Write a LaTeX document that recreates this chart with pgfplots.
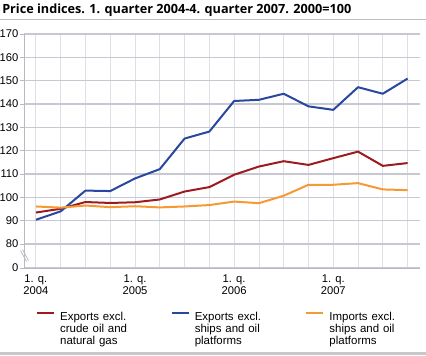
\documentclass[border=0pt]{standalone}
\usepackage{fontspec}
\setmainfont{Liberation Sans}
\newfontfamily\titlefont{Open Sans}
\usepackage{pgfplots}
\pgfplotsset{compat=1.18}
\definecolor{cred}{RGB}{155,27,30}
\definecolor{cblue}{RGB}{41,71,158}
\definecolor{corange}{RGB}{247,153,51}
\definecolor{hgrid}{RGB}{200,200,210}
\definecolor{vgrid}{RGB}{222,222,230}
\definecolor{axgray}{RGB}{185,185,195}
\begin{document}
\begin{tikzpicture}[x=0.75pt,y=0.75pt]
\path[use as bounding box] (0,0) rectangle (426,355);
\node[anchor=base west,inner sep=0pt,font=\titlefont\bfseries\fontsize{9.5pt}{11pt}\selectfont] at (2,355-13.5) {Price indices. 1. quarter 2004-4. quarter 2007. 2000=100};
\draw[color={rgb,255:red,190;green,190;blue,190},line width=1.1pt] (0,355-19.5) -- (426,355-19.5);
\fill[color={rgb,255:red,200;green,200;blue,200}] (0,0) rectangle (426,3);
\begin{axis}[
  at={(18pt,65.25pt)}, anchor=south west,
  scale only axis, width=297pt, height=175.5pt,
  xmin=-0.48, xmax=15.5, ymin=69.73, ymax=170,
  axis lines=left, axis line style={draw=axgray,-,line width=0.6pt},
  xtick={0,...,15},
  xticklabels={{1. q.\\2004},,,,{1. q.\\2005},,,,{1. q.\\2006},,,,{1. q.\\2007},,,},
  xticklabel style={align=center,font=\fontsize{8.4pt}{9pt}\selectfont,inner sep=1pt,yshift=-1pt},
  major x tick style={draw=none},
  ytick={69.73,80,90,100,110,120,130,140,150,160,170},
  yticklabels={0,80,90,100,110,120,130,140,150,160,170},
  yticklabel style={font=\fontsize{8.4pt}{9pt}\selectfont,inner sep=1pt},
  major y tick style={draw=axgray,line width=0.6pt},
  tick align=outside, major tick length=3pt,
  xmajorgrids, ymajorgrids,
  major x grid style={draw=vgrid,line width=0.6pt},
  major y grid style={draw=hgrid,line width=0.9pt},
  /pgf/number format/assume math mode=true,
  legend columns=3,
  legend style={at={(0.03,-0.185)},anchor=north west,draw=none,fill=none,inner sep=0pt,
    font=\fontsize{8.6pt}{9.1pt}\selectfont,
    nodes={inner sep=0pt,text width=83pt,align=left},
    /tikz/every odd column/.append style={column sep=3.75pt}},
  legend image code/.code={\draw[#1,line width=1.5pt] (0pt,0.33em) -- (12.75pt,0.33em);},
  every axis plot/.append style={line width=1.5pt,line join=round},
]
\addplot[cred] coordinates {(0,93.5)(1,95.1)(2,98.0)(3,97.6)(4,97.9)(5,99.1)(6,102.5)(7,104.4)(8,109.7)(9,113.2)(10,115.5)(11,113.9)(12,116.8)(13,119.6)(14,113.5)(15,114.7)};
\addlegendentry{Exports excl.\\crude oil and\\natural gas}
\addplot[cblue] coordinates {(0,90.4)(1,94.0)(2,102.9)(3,102.7)(4,108.1)(5,112.1)(6,125.2)(7,128.2)(8,141.3)(9,141.8)(10,144.4)(11,139.0)(12,137.5)(13,147.2)(14,144.4)(15,150.9)};
\addlegendentry{Exports excl.\\ships and oil\\platforms}
\addplot[corange] coordinates {(0,96.1)(1,95.6)(2,96.5)(3,95.8)(4,96.2)(5,95.7)(6,96.1)(7,96.7)(8,98.2)(9,97.5)(10,100.7)(11,105.4)(12,105.4)(13,106.1)(14,103.4)(15,103.1)};
\addlegendentry{Imports excl.\\ships and oil\\platforms}
\end{axis}
\draw[axgray,line width=0.6pt] (20.5,355-250.5) -- (26.5,355-261.5);
\draw[axgray,line width=0.6pt] (22.5,355-249.5) -- (28.5,355-260.5);
\end{tikzpicture}
\end{document}
